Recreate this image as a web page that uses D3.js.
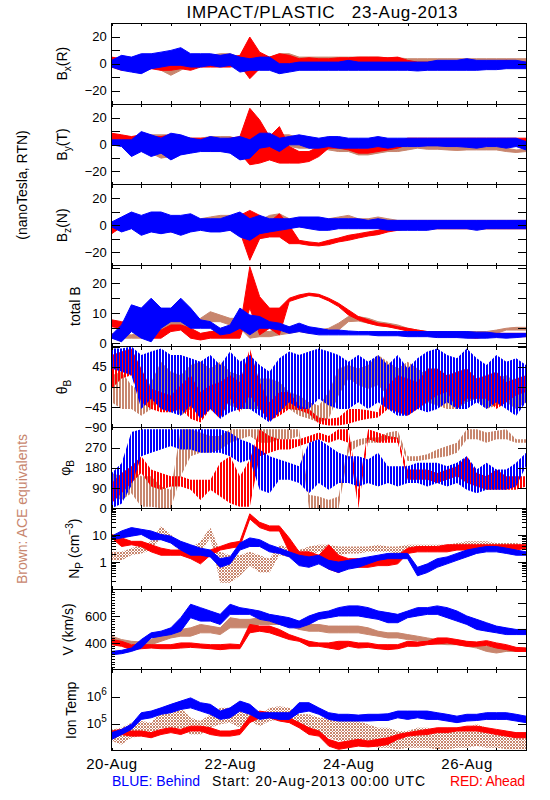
<!DOCTYPE html>
<html><head><meta charset="utf-8">
<script src="https://cdn.jsdelivr.net/npm/d3@7/dist/d3.min.js"></script>
<style>
body{margin:0;background:#fff;}
svg text{font-family:"Liberation Sans",Arial,sans-serif;}
</style></head><body>
<svg id="c" width="550" height="800"></svg>
<script>
// ---------------- DATA (hours since 20-Aug-2013 00:00 UTC; each entry = [low, high] spread of samples) -------------
const hours = [0,4,8,12,16,20,24,28,32,36,40,44,48,52,56,60,64,68,72,76,80,84,88,92,96,100,104,108,112,116,120,124,128,132,136,140,144,148,152,156,160,164,168];
const xTickHours = [0,12,24,36,48,60,72,84,96,108,120,132,144,156,168];
const dateTickHours = [0,48,96,144];
const dateLabels = ["20-Aug","22-Aug","24-Aug","26-Aug"];

const bxBlue = [[-2.5,2.5],[-4.9,6.2],[-6.2,4.9],[-7.4,7.4],[-3.7,7.4],[-2.5,8.6],[-1.2,9.9],[-1.2,11.9],[-2.5,7.4],[-2.5,7.4],
 [-1.2,7.4],[-2.5,6.2],[-1.2,7.4],[-6.2,4.9],[-4.9,3.7],[-4.9,4.9],[-4.9,4.9],[-7.4,0],[-6.2,0],[-4.9,1.2],
 [-4.9,1.2],[-4.9,1.2],[-4.9,1.2],[-4.9,1.2],[-4.9,2.5],[-4.9,1.2],[-4.9,1.2],[-4.9,1.2],[-4.9,1.2],[-4.9,1.2],
 [-4.9,1.2],[-5.4,1.2],[-4.9,1.2],[-4.9,2.5],[-4.9,2.5],[-4.9,2.5],[-4.9,3.7],[-4.9,2.5],[-4.4,2.5],[-4.4,2.5],
 [-3.7,2.5],[-3.7,2.5],[-3.7,1.2]];
const bxRed = [[-2.5,4.9],[-4.9,3.7],[-3.7,2.5],[-4.9,1.2],[-3.7,2.5],[-4.9,1.2],[-4.9,1.2],[-3.7,2.5],[-4.9,1.2],[-2.5,3.7],
 [-2.5,4.9],[-2.5,4.9],[-2.5,4.9],[-1.2,6.2],[-11.1,19.8],[-3.7,8.6],[-2.5,4.9],[-3.7,7.4],[0,6.2],[0,3.7],
 [0.5,4.4],[0,3.7],[0,3.7],[0.5,4.4],[0,4.4],[0.5,4.9],[1.2,4.9],[1.2,4.9],[1.2,4.4],[1.2,4.9],
 [-2.5,2.5],[-3.7,1.2],[-3.7,1.2],[-3.7,1.2],[-3.7,1.2],[-2.5,1.2],[-2.5,2.5],[-2.5,1.2],[-2.5,1.2],[-2.5,1.2],
 [-2.5,2.5],[-2.5,1.2],[-2.5,1.2]];
const bxBrown = [[-1.2,3.7],[-1.2,2.5],[-1.2,2.5],[-2.5,2.5],[-2.5,2.5],[-4.9,1.2],[-8.6,-1.2],[-4.9,0],[0,4.9],[1.2,4.9],
 [1.2,6.2],[1.2,7.4],[1.2,7.4],[0,4.9],[-1.2,6.2],[-1.2,4.9],[0,4.9],[2.5,7.4],[2.5,7.4],[1.2,4.9],
 [1.2,4.9],[1.2,4.9],[1.2,4.9],[1.2,4.9],[1.2,4.9],[0.5,4.9],[1.2,4.9],[0.5,4.9],[1.2,4.4],[0.5,4.4],
 [0,3.7],[0,3.7],[0,3.7],[0,3.7],[0,3.7],[0,3.7],[0,3.7],[0,3.7],[0,3.7],[0,3.7],
 [0,3.7],[0,3.7],[0,3.7]];

const byBlue = [[-0.2,3.5],[-1.5,3.5],[-8.9,3.5],[-5.2,9.6],[-8.9,7.2],[-6.4,4.7],[-11.4,8.4],[-7.7,7.2],[-6.4,4.7],[-5.2,3.5],
 [-5.2,5.9],[-5.2,4.7],[-6.4,4.7],[-11.4,5.9],[-10.1,3.5],[-2.7,8.4],[-1.5,8.4],[-5.2,4.7],[-0.2,5.9],[-0.2,7.2],
 [-2.7,5.9],[-2.7,4.7],[-1.5,5.9],[-2.7,5.9],[-2.7,4.7],[-2.7,4.7],[-2.7,4.7],[-1.5,5.9],[-2.7,4.7],[-1.5,4.7],
 [-1.5,4.7],[-1.5,4.7],[-1,4.7],[-1,4.7],[-1.5,4.7],[-1.5,4.7],[-2,4.7],[-2.7,4.7],[-1.5,4.7],[-1.5,4.7],
 [-2.7,4.7],[-1.5,4.7],[-4,2.2]];
const byRed = [[3.5,8.4],[3.5,7.2],[2.2,5.9],[2.2,7.2],[2.2,5.9],[-0.2,5.9],[-0.2,7.2],[1,5.9],[-0.2,4.7],[-1.5,4.7],
 [-1.5,4.7],[-1.5,3.5],[1,4.7],[-6.4,5.9],[-15,26.9],[-13.8,18.3],[-11.4,5.9],[-13.8,13.3],[-13.8,-1.5],[-13.8,-5.2],
 [-12.6,-5.2],[-8.9,-1.5],[-2.7,1],[-2.7,2.2],[-4,1],[-6.4,-2.7],[-6.4,-2.7],[-5.2,-1.5],[-4,-0.2],[-2.7,2.2],
 [-0.2,4.7],[-0.2,4.7],[-0.2,4.7],[-0.2,4.7],[-0.2,4.7],[-0.2,4.7],[-0.2,4.7],[-0.2,4.7],[-0.2,4.7],[-0.2,4.7],
 [-0.2,4.7],[-0.2,4.7],[-0.2,4.7]];
const byBrown = [[-0.2,2.2],[-0.2,3.5],[-4,3.5],[-5.2,7.2],[-6.4,7.2],[-10.1,7.2],[-8.9,7.2],[-5.2,4.7],[-5.2,4.7],[-2.7,4.7],
 [-5.2,5.9],[-5.2,5.9],[-5.2,5.9],[-6.4,3.5],[-6.4,3.5],[-5.2,1],[-2.7,3.5],[-1.5,7.2],[-1.5,7.2],[-2.7,4.7],
 [-2.7,3.5],[-2.7,3.5],[-4,2.2],[-5.2,-0.2],[-5.2,-1.5],[-7.7,-4],[-7.7,-4],[-6.4,-2.7],[-5.2,-1.5],[-5.2,-1.5],
 [-4,-0.2],[-2.7,-0.2],[-3.5,-1],[-3.5,-1],[-4,-1.5],[-4.4,-1.5],[-4,-1],[-4,-1.5],[-4,-0.2],[-4,-0.2],
 [-5.2,-2.7],[-5.9,-4],[-5.2,-3.5]];

const bzBlue = [[-1.2,2.5],[-4.9,6.2],[-2.5,9.9],[-7.4,7.4],[-4.9,9.9],[-6.2,9.9],[-4.9,7.4],[-7.4,7.4],[-4.9,8.6],[-3.7,4.9],
 [-4.9,4.9],[-4.9,4.9],[-3.7,7.4],[-8.6,9.9],[-11.1,4.9],[-6.2,7.4],[-4.9,4.9],[-3.7,4.9],[-2.5,4.9],[-1.2,6.2],
 [-2.5,6.2],[-3.7,6.2],[-3.7,4.9],[-2.5,4.9],[-2.5,4.9],[-2.5,4.9],[-2.5,3.7],[-2.5,4.9],[-3.7,3.7],[-3.7,3.7],
 [-3.7,3.7],[-3.7,3.7],[-3.7,3.7],[-2.5,3.7],[-2.5,3.7],[-2.5,3.7],[-2.5,3.7],[-3.7,3.7],[-2.5,3.7],[-2.5,3.7],
 [-2.5,3.7],[-2.5,3.7],[-2.5,3.7]];
const bzRed = [[-6.2,1.2],[-1.2,3.7],[-1.2,4.9],[-2.5,3.7],[-2.5,2.5],[-3.7,1.2],[-4.9,0],[-3.7,2.5],[-2.5,2.5],[-2.5,1.2],
 [-3.7,1.2],[-2.5,1.2],[-3.7,2.5],[-4.9,7.4],[-25.9,11.1],[-9.9,7.4],[-8.6,2.5],[-8.6,8.6],[-13.6,0],[-13.6,-11.1],
 [-14.8,-12.3],[-15.3,-13.1],[-14.3,-11.1],[-12.3,-9.4],[-11.1,-7.4],[-9.4,-6.2],[-7.9,-4.9],[-6.9,-3.7],[-4.9,-1.2],[-3.7,1.2],
 [-2.5,1.2],[-2.5,1.2],[-2.5,1.2],[-2.5,1.2],[-2.5,1.2],[-2.5,1.2],[-2.5,1.2],[-2.5,1.2],[-2.5,1.2],[-2.5,1.2],
 [-2.5,1.2],[-2.5,1.2],[-2.5,1.2]];
const bzBrown = [[-1.2,1.2],[0,2.5],[0,3.7],[-1.2,4.9],[0,6.2],[1.2,7.4],[-1.2,6.2],[-1.2,4.9],[-2.5,4.9],[-2.5,4.9],
 [-2.5,6.2],[0,7.4],[-2.5,7.4],[-2.5,4.9],[-2.5,4.9],[-1.2,3.7],[0,7.4],[0,8.6],[-1.2,4.9],[-1.2,3.7],
 [-1.2,3.7],[-1.2,3.7],[0,4.9],[1.2,6.2],[2.5,7.4],[0,4.9],[1.2,4.9],[1.2,6.2],[0,4.9],[-2.5,3.7],
 [-2.5,3.7],[-2.5,3.7],[-2.5,3.7],[-2.5,3.7],[-2.5,3.7],[-2.5,3.7],[-2.5,3.7],[-2.5,3.7],[-2.5,3.7],[-2.5,3.7],
 [-2.5,3.7],[-2.5,3.7],[-2.5,3.7]];

const btBlue = [[1.6,2.7],[0.4,6],[3.8,12.7],[1.6,11.6],[0.4,14.9],[4.9,11.6],[7.1,11.6],[7.1,14.9],[4.9,11.6],[4.9,7.7],
 [4.9,7.1],[2.7,4.9],[3.2,6],[4.9,11.6],[2.7,9.3],[4.9,8.8],[4.9,7.1],[4.3,6.6],[3.2,5.4],[3.8,6.6],
 [3.2,5.4],[2.7,4.9],[2.7,4.3],[2.7,4.3],[2.7,4],[2.7,3.8],[2.7,3.8],[2.4,3.8],[2.4,3.8],[2.4,3.8],
 [2.1,3.8],[2.1,3.8],[2.1,3.8],[1.8,3.8],[1.8,3.8],[1.8,3.8],[1.6,3.8],[1.6,3.6],[1.6,3.6],[1.8,3.2],
 [1.6,3.2],[1.8,3.2],[2.1,3.2]];
const btRed = [[5.4,7.7],[4.9,7.1],[4.3,6.6],[3.2,6],[1.6,4.9],[1.6,4.3],[3.8,6],[4.3,6],[1.6,4.9],[1,3.2],
 [1.6,3.8],[1.6,3.8],[1.6,3.8],[1.6,4.9],[11.6,25.4],[2.7,15.4],[4.9,11.6],[2.7,11.6],[13.8,14.9],[14.9,16],
 [15.8,16.6],[15.4,16.2],[14,14.9],[12.1,13.2],[9.3,11],[7.7,8.8],[6.6,7.7],[5.8,6.6],[5.4,6.2],[4.7,5.4],
 [4,4.9],[3.2,4.3],[2.7,3.8],[2.4,3.8],[2.1,3.6],[2.1,3.2],[1.8,3.2],[1.6,3.2],[2.1,3.2],[2.1,3.2],
 [1.8,3.2],[2.1,3.2],[2.1,3.2]];
const btBrown = [[1.6,3.2],[1.6,2.7],[1.6,2.7],[1.6,3.2],[2.1,3.2],[2.7,6],[4.3,7.1],[4.9,7.1],[4.9,7.1],[6,8.2],
 [7.1,10.4],[7.1,9.3],[6,8.2],[4.9,8.2],[1.6,4.9],[2.1,3.8],[2.1,3.8],[2.7,4.9],[3.2,5.4],[3.8,5.4],
 [3.2,4.9],[3.2,4.3],[3.8,4.9],[4.3,6.6],[7.1,8.8],[7.3,8.8],[6.6,8.2],[5.8,7.1],[5.4,6.6],[4.9,6],
 [4,4.9],[3.2,4.3],[2.7,3.8],[2.7,3.8],[2.7,3.8],[2.7,3.8],[2.4,3.8],[2.4,3.8],[2.4,3.8],[3.2,4.3],
 [4.3,4.9],[4.3,5.2],[4.3,5.2]];

const thBlue = [[41,86],[34,86],[26,90],[-49,71],[-26,79],[-49,86],[-56,71],[-64,71],[-41,64],[-71,56],
 [-49,71],[-71,49],[-56,79],[-49,56],[-49,71],[-64,49],[-79,34],[-56,64],[-34,79],[-49,71],
 [-49,79],[-26,86],[-41,79],[-49,71],[-49,56],[-34,71],[-49,56],[-34,71],[-49,49],[-64,71],
 [-64,41],[-49,64],[-56,79],[-49,86],[-34,71],[-49,64],[-49,86],[-34,64],[-49,49],[-34,71],
 [-49,56],[-64,64],[-34,49]];
const thRed = [[-4,71],[19,79],[26,86],[-34,41],[-49,-4],[-56,-11],[-56,-19],[-49,4],[-71,26],[-79,-11],
 [-49,4],[-71,11],[-26,26],[-56,11],[-19,86],[-49,11],[-75,-34],[-64,-11],[-49,-11],[-52,-41],
 [-60,-49],[-82,-68],[-86,-71],[-86,-68],[-82,-49],[-75,-49],[-71,-52],[-68,-56],[-49,4],[-56,26],
 [-64,19],[-49,11],[-34,41],[-19,41],[-11,26],[-49,34],[-26,41],[-26,19],[-26,26],[-49,34],
 [-34,11],[-19,19],[-11,26]];
const thBrown = [[-34,26],[-49,34],[-49,4],[-64,-11],[-49,11],[-11,56],[-34,34],[-64,26],[-49,49],[-11,56],
 [-34,41],[-19,56],[-41,34],[-49,26],[-49,34],[-49,19],[-41,19],[-49,11],[-49,-11],[-64,-19],
 [-71,-34],[-79,-41],[-71,-11],[-19,41],[19,49],[4,41],[-4,49],[4,71],[-19,56],[-34,41],
 [-34,56],[-19,41],[-34,26],[-41,19],[-49,11],[-49,4],[-34,26],[-26,19],[-49,11],[-41,19],
 [-34,26],[-49,11],[-34,11]];

const phBlue = [[0,157],[20,200],[100,340],[232,352],[247,352],[262,352],[277,352],[262,352],[262,352],[247,352],
 [247,352],[247,352],[232,337],[202,307],[217,292],[82,262],[67,232],[127,217],[127,202],[112,187],
 [67,292],[112,307],[82,277],[112,247],[112,232],[97,232],[112,217],[97,247],[112,187],[97,187],
 [112,187],[112,202],[97,202],[112,202],[97,187],[112,202],[82,232],[67,172],[82,202],[82,172],
 [82,172],[97,202],[187,247]];
const phRed = [[22,112],[67,157],[112,187],[157,232],[97,172],[82,157],[97,142],[97,142],[82,127],[37,127],
 [82,127],[52,202],[22,232],[7,142],[7,217],[232,352],[247,322],[262,307],[262,307],[277,307],
 [292,322],[307,337],[292,322],[307,352],[292,352],[0,82],[307,352],[292,337],[292,322],[292,315],
 [127,172],[127,172],[127,172],[112,157],[127,172],[142,187],[112,232],[97,157],[82,142],[82,172],
 [82,142],[82,142],[97,142]];
const phBrown = [[52,157],[37,142],[67,172],[7,142],[7,142],[0,97],[0,82],[142,352],[232,352],[247,337],
 [247,322],[262,322],[292,352],[307,352],[322,352],[292,352],[292,352],[307,352],[307,352],[322,352],
 [0,60],[0,52],[0,37],[0,52],[247,292],[277,307],[292,315],[292,315],[307,337],[307,345],
 [210,232],[210,232],[217,240],[225,262],[232,277],[247,292],[307,352],[307,352],[292,337],[307,345],
 [307,352],[292,307],[292,307]];

const npBlue = [[6.8,9.2],[7.9,14.3],[9.2,19.1],[10.6,16.5],[6.8,14.3],[6.8,10.6],[5.1,9.2],[2.8,5.9],[1.8,4.4],[1.8,3.3],
 [1.56,2.8],[0.64,1.34],[0.86,1.56],[2.8,5.1],[3.8,7.9],[3.8,6.8],[2.4,4.4],[2.1,3.3],[1.56,2.4],[0.74,1.8],
 [0.64,1.56],[0.86,1.8],[0.55,1.16],[0.41,1],[0.55,1.16],[0.64,1.34],[0.86,1.56],[1.16,1.8],[1.34,2.1],[1.34,2.1],
 [1.34,2.1],[0.31,0.64],[0.41,0.86],[0.64,1.34],[0.86,1.56],[1.16,2.1],[1.56,2.8],[2.1,3.3],[2.4,3.8],[2.4,3.8],
 [2.1,3.3],[1.8,2.8],[1.8,2.4]];
const npRed = [[7.9,10.6],[3.8,7.9],[4.4,5.9],[3.8,5.9],[2.4,4.4],[1.8,3.3],[1.8,2.8],[1.8,2.8],[1.34,2.4],[0.86,1.8],
 [1.8,2.8],[2.8,3.8],[3.3,5.1],[3.8,5.9],[40,62],[19.1,30],[14.3,22],[14.3,22],[2.4,7.9],[1,2.4],
 [1.16,2.4],[1,1.8],[0.55,4.4],[0.41,1.8],[0.64,1.34],[0.64,1.34],[0.64,1.34],[0.74,1.34],[0.74,1.56],[0.86,1.8],
 [2.1,3.3],[2.4,3.8],[2.4,3.8],[2.4,3.8],[2.4,4.4],[2.8,4.4],[2.8,4.4],[2.8,4.4],[2.8,4.4],[2.8,4.4],
 [2.8,4.4],[2.8,4.4],[3.3,4.4]];
const npBrown = [[1.16,2.4],[1.16,2.4],[1.8,3.3],[2.1,4.4],[2.8,5.9],[7.9,22],[5.1,10.6],[2.4,4.4],[1.8,3.3],[2.4,5.9],
 [7.9,19.1],[0.17,2.4],[0.17,1.8],[0.31,1.8],[0.74,2.4],[0.41,1.8],[0.41,1.34],[1.8,4.4],[1.56,3.3],[1.56,2.8],
 [1.8,3.8],[2.4,4.4],[1.8,4.4],[1.8,3.8],[2.1,3.8],[2.1,3.8],[2.4,3.8],[2.4,4.4],[2.4,3.8],[2.1,3.8],
 [2.8,4.4],[2.8,4.4],[2.4,4.4],[2.8,4.4],[2.8,4.4],[3.3,5.1],[3.3,5.9],[3.8,5.9],[3.3,5.9],[3.3,5.1],
 [3.3,5.1],[3.3,5.1],[2.8,4.4]];

const vBlue = [[312,337],[320,345],[337,362],[362,425],[437,475],[450,487],[462,512],[487,587],[587,687],[562,662],
 [562,637],[537,612],[612,687],[612,662],[612,650],[575,637],[562,612],[537,600],[512,587],[512,562],
 [537,600],[575,625],[587,637],[600,662],[600,675],[600,675],[587,662],[575,637],[550,625],[550,612],
 [587,637],[600,662],[612,662],[612,675],[587,662],[562,637],[537,600],[500,575],[487,550],[475,525],
 [462,512],[462,500],[462,500]];
const vRed = [[387,425],[375,412],[350,387],[357,387],[362,387],[357,387],[357,387],[362,400],[367,400],[362,392],
 [357,387],[350,387],[357,392],[357,387],[475,537],[487,525],[475,525],[450,500],[425,462],[412,437],
 [375,412],[375,400],[362,400],[350,412],[375,412],[362,400],[367,400],[357,387],[350,387],[357,387],
 [375,412],[375,407],[387,412],[392,437],[400,437],[387,425],[375,412],[375,407],[382,417],[362,400],
 [350,387],[337,367],[337,362]];
const vBrown = [[412,450],[400,425],[392,412],[387,407],[387,425],[412,462],[437,487],[450,500],[450,512],[475,537],
 [475,525],[462,512],[512,587],[512,575],[512,575],[537,587],[537,587],[537,587],[525,575],[500,550],
 [487,537],[487,537],[475,525],[475,525],[475,525],[475,525],[462,512],[450,487],[437,475],[437,475],
 [425,462],[417,450],[407,437],[392,425],[387,412],[387,412],[375,400],[362,387],[337,375],[325,362],
 [337,362],[337,362],[337,362]];

const tBlue = [[2.63e4,4.68e4],[3.98e4,6.17e4],[6.17e4,9.55e4],[1.45e5,2.57e5],[1.66e5,2.95e5],[2.24e5,3.89e5],[2.57e5,5.25e5],[3.39e5,6.92e5],[3.89e5,9.12e5],[2.95e5,6.03e5],
 [2.24e5,5.25e5],[1.45e5,2.95e5],[1.66e5,3.89e5],[2.95e5,6.92e5],[2.24e5,5.25e5],[1.45e5,2.57e5],[1.66e5,2.57e5],[1.45e5,2.57e5],[1.45e5,2.57e5],[2.57e5,6.03e5],
 [2.95e5,6.03e5],[2.24e5,3.89e5],[1.45e5,2.57e5],[1.26e5,2.24e5],[1.26e5,2.24e5],[1.26e5,2.09e5],[1.26e5,2.24e5],[1.32e5,2.24e5],[1.32e5,2.34e5],[1.66e5,2.95e5],
 [1.45e5,2.95e5],[1.66e5,2.95e5],[1.45e5,2.95e5],[1.45e5,2.57e5],[1.26e5,2.24e5],[1.1e5,1.91e5],[1.26e5,2.24e5],[1.32e5,2.24e5],[1.45e5,2.57e5],[1.45e5,2.57e5],
 [1.45e5,2.57e5],[1.26e5,2.24e5],[1.1e5,1.91e5]];
const tRed = [[3.47e4,5.37e4],[3.98e4,6.17e4],[3.47e4,5.37e4],[3.47e4,5.37e4],[3.02e4,4.68e4],[3.98e4,6.17e4],[4.68e4,7.08e4],[3.98e4,6.17e4],[5.37e4,8.13e4],[5.37e4,8.13e4],
 [3.98e4,7.08e4],[3.47e4,5.37e4],[3.47e4,5.37e4],[3.98e4,6.17e4],[1.1e5,1.91e5],[1.66e5,2.95e5],[1.66e5,2.57e5],[1.26e5,1.91e5],[1.1e5,1.66e5],[7.08e4,1.1e5],
 [3.98e4,7.08e4],[3.47e4,5.37e4],[1.48e4,2.63e4],[1.12e4,2e4],[1.29e4,2.29e4],[1.48e4,2.63e4],[1.38e4,2.29e4],[1.48e4,2.63e4],[1.7e4,3.02e4],[2.63e4,3.98e4],
 [3.47e4,4.68e4],[3.8e4,5.37e4],[3.98e4,6.17e4],[4.68e4,7.08e4],[4.68e4,7.08e4],[5.37e4,7.08e4],[5.37e4,8.13e4],[5.37e4,8.13e4],[4.68e4,7.08e4],[3.98e4,6.17e4],
 [3.47e4,5.37e4],[3.02e4,4.68e4],[3.02e4,4.68e4]];
const tBrown = [[2.29e4,6.17e4],[1.7e4,7.08e4],[3.02e4,1.1e5],[3.47e4,1.26e5],[3.02e4,1.1e5],[7.08e4,2.95e5],[5.37e4,2.95e5],[7.08e4,3.89e5],[3.98e4,1.66e5],[3.98e4,1.26e5],
 [7.08e4,2.24e5],[9.55e4,3.89e5],[1.1e5,3.89e5],[7.08e4,2.95e5],[1.26e5,2.95e5],[8.13e4,1.91e5],[1.26e5,3.89e5],[1.45e5,4.47e5],[1.26e5,3.89e5],[7.08e4,2.24e5],
 [5.37e4,2.24e5],[3.98e4,1.66e5],[3.02e4,1.66e5],[2.29e4,1.26e5],[2.29e4,1.26e5],[1.7e4,1.26e5],[1.7e4,9.55e4],[1.29e4,7.08e4],[1.29e4,7.08e4],[1.12e4,5.37e4],
 [1.29e4,5.37e4],[1.29e4,7.08e4],[1.29e4,7.08e4],[1.12e4,5.37e4],[1.12e4,5.37e4],[1.29e4,7.08e4],[1.29e4,7.08e4],[1.48e4,9.55e4],[1.29e4,7.08e4],[1.29e4,5.37e4],
 [1.12e4,5.37e4],[1.12e4,4.68e4],[1.12e4,3.98e4]];

// ---------------- LAYOUT / STYLE ----------------
const BLUE = "#0000ff", RED = "#ff0000", BROWN = "#c8866e";
const L = 111.7, R = 526, TOP = 23.3, PH = 80.82;
const svg = d3.select("#c");
const defs = svg.append("defs");
const x = d3.scaleLinear().domain([0, 168]).range([L, R]);

function stripePattern(id, col, offset) {
  const p = defs.append("pattern").attr("id", id).attr("patternUnits", "userSpaceOnUse")
    .attr("width", 3).attr("height", 6).attr("x", offset);
  p.append("rect").attr("x", 0).attr("y", 0).attr("width", 2).attr("height", 6).attr("fill", col);
}
function stipplePattern(id, col) {
  const p = defs.append("pattern").attr("id", id).attr("patternUnits", "userSpaceOnUse")
    .attr("width", 3).attr("height", 3);
  p.append("rect").attr("x", 0).attr("y", 0).attr("width", 2).attr("height", 2).attr("fill", col);
  p.append("rect").attr("x", 2).attr("y", 2).attr("width", 1).attr("height", 1).attr("fill", col);
}
stripePattern("sBlue", BLUE, 0);
stripePattern("sRed", RED, 1);
stripePattern("sBrown", BROWN, 2);
stipplePattern("dBrown", BROWN);

const panels = [
  {label:[["B"],["x","sub"],["(R)"]], lx:67, series:[bxBrown,bxRed,bxBlue], domain:[-30,30], ticks:[-20,-10,0,10,20], labeled:[-20,0,20]},
  {label:[["B"],["y","sub"],["(T)"]], lx:67, series:[byBrown,byRed,byBlue], domain:[-30,30], ticks:[-20,-10,0,10,20], labeled:[-20,0,20]},
  {label:[["B"],["z","sub"],["(N)"]], lx:67, series:[bzBrown,bzRed,bzBlue], domain:[-30,30], ticks:[-20,-10,0,10,20], labeled:[-20,0,20]},
  {label:[["total B"]], lx:80, series:[btBrown,btRed,btBlue], domain:[-1.2,25.7], ticks:[0,5,10,15,20,25], labeled:[0,10,20]},
  {label:[["θ"],["B","sub"]], lx:67, series:[thBrown,thRed,thBlue], domain:[-90,90], ticks:[-90,-45,0,45,90], labeled:[-90,-45,0,45],
     fills:["url(#sBrown)","url(#sRed)","url(#sBlue)"]},
  {label:[["φ"],["B","sub"]], lx:70, series:[phBrown,phRed,phBlue], domain:[0,360], ticks:[0,90,180,270,360], labeled:[0,90,180,270],
     fills:["url(#sBrown)","url(#sRed)","url(#sBlue)"]},
  {label:[["N"],["P","sub"],[" (cm"],["−3","sup"],[")"]], lx:79, series:[npBrown,npRed,npBlue], domain:[0.1,100], log:true,
     ticks:[0.1,1,10,100], labeled:[1,10], minor:[0.2,0.3,0.4,0.5,0.6,0.7,0.8,0.9,2,3,4,5,6,7,8,9,20,30,40,50,60,70,80,90],
     fills:["url(#dBrown)",null,null]},
  {label:[["V (km/s)"]], lx:73, series:[vBrown,vRed,vBlue], domain:[200,800], ticks:[400,600], labeled:[400,600],
     rticks:[300,400,500,600,700], minor:d3.range(220,800,20)},
  {label:[["Ion Temp"]], lx:76, series:[tBrown,tRed,tBlue], domain:[1e4,1e7], log:true, ticks:[1e5,1e6], labeled:[], sup:[[1e5,"5"],[1e6,"6"]],
     fills:["url(#dBrown)",null,null]}
];

function addRotLabel(parts, xb, cy, size, color) {
  const t = svg.append("text")
    .attr("transform", `translate(${xb},${cy}) rotate(-90)`)
    .attr("text-anchor", "middle").attr("font-size", size).attr("fill", color || "#000");
  let shift = 0;
  parts.forEach(([s, kind]) => {
    const target = kind === "sub" ? 4 : kind === "sup" ? -6 : 0;
    const ts = t.append("tspan").text(s).attr("dy", target - shift);
    shift = target;
    if (kind) ts.attr("font-size", size * 0.72);
  });
}

function styleAxis(g) {
  g.select(".domain").remove();
  g.attr("font-family", null).attr("font-size", 13);
  g.selectAll("line").attr("stroke", "#000").attr("shape-rendering", "crispEdges");
  g.selectAll("text").attr("fill", "#000");
}

panels.forEach((p, k) => {
  const y0 = TOP + k * PH, y1 = y0 + PH;
  const y = (p.log ? d3.scaleLog() : d3.scaleLinear()).domain(p.domain).range([y1, y0]);
  const clipId = "clip" + k;
  defs.append("clipPath").attr("id", clipId).append("rect")
    .attr("x", L).attr("y", y0).attr("width", R - L).attr("height", PH);

  const area = d3.area()
    .x((d, i) => x(hours[i]))
    .y0(d => y(d[0])).y1(d => y(d[1]));

  const dg = svg.append("g").attr("clip-path", `url(#${clipId})`);
  [BROWN, RED, BLUE].forEach((col, j) => {
    const f = p.fills && p.fills[j];
    dg.append("path").datum(p.series[j]).attr("d", area)
      .attr("fill", f || col).attr("stroke", f ? "none" : col)
      .attr("stroke-width", 1).attr("stroke-linejoin", "round");
  });

  const fmt = v => p.labeled.includes(v) ? d3.format("")(v).replace("-", "−") : "";
  const la = svg.append("g").attr("transform", `translate(${L},0)`)
    .call(d3.axisLeft(y).tickValues(p.ticks).tickSize(-8).tickPadding(5).tickFormat(fmt));
  styleAxis(la);
  const ra = svg.append("g").attr("transform", `translate(${R},0)`)
    .call(d3.axisRight(y).tickValues(p.rticks || p.ticks).tickSize(-8).tickFormat(""));
  styleAxis(ra);
  if (p.minor) {
    const ml = svg.append("g").attr("transform", `translate(${L},0)`)
      .call(d3.axisLeft(y).tickValues(p.minor).tickSize(p.log ? -4 : -3).tickFormat(""));
    styleAxis(ml);
    if (p.log) {
      const mr = svg.append("g").attr("transform", `translate(${R},0)`)
        .call(d3.axisRight(y).tickValues(p.minor).tickSize(-4).tickFormat(""));
      styleAxis(mr);
    }
  }
  if (p.sup) {
    p.sup.forEach(([v, e]) => {
      const t = svg.append("text").attr("x", L - 5).attr("y", y(v)).attr("dy", "0.32em")
        .attr("text-anchor", "end").attr("font-size", 13);
      t.append("tspan").text("10");
      t.append("tspan").text(e).attr("dy", -6).attr("font-size", 10);
    });
  }
  const ta = svg.append("g").attr("transform", `translate(0,${y0})`)
    .call(d3.axisTop(x).tickValues(xTickHours).tickSize(-3).tickFormat(""));
  styleAxis(ta);
  const ba = svg.append("g").attr("transform", `translate(0,${y1})`)
    .call(d3.axisBottom(x).tickValues(xTickHours).tickSize(-3).tickFormat(""));
  styleAxis(ba);

  svg.append("rect").attr("x", L).attr("y", y0).attr("width", R - L).attr("height", PH)
    .attr("fill", "none").attr("stroke", "#000").attr("stroke-width", 1).attr("shape-rendering", "crispEdges");

  addRotLabel(p.label, p.lx, (y0 + y1) / 2, 14);
});

svg.append("text").attr("x", 322).attr("y", 18).attr("text-anchor", "middle")
  .attr("font-size", 17).style("white-space", "pre")
  .attr("textLength", 271).attr("lengthAdjust", "spacing")
  .text("IMPACT/PLASTIC   23-Aug-2013");

addRotLabel([["(nanoTesla, RTN)"]], 27, 185, 14);
addRotLabel([["Brown: ACE equivalents"]], 27, 509, 14, BROWN);

const yB = TOP + 9 * PH;
dateTickHours.forEach((h, i) => {
  svg.append("text").attr("x", x(h)).attr("y", yB + 18.5).attr("text-anchor", "middle")
    .attr("font-size", 15).attr("textLength", 51).attr("lengthAdjust", "spacing").text(dateLabels[i]);
});
svg.append("text").attr("x", 112).attr("y", 786).attr("font-size", 14).attr("fill", BLUE)
  .attr("textLength", 88).attr("lengthAdjust", "spacing").text("BLUE: Behind");
svg.append("text").attr("x", 212).attr("y", 786).attr("font-size", 14)
  .attr("textLength", 213).attr("lengthAdjust", "spacing").text("Start: 20-Aug-2013 00:00 UTC");
svg.append("text").attr("x", 450).attr("y", 786).attr("font-size", 14).attr("fill", RED)
  .attr("textLength", 75).attr("lengthAdjust", "spacing").text("RED: Ahead");
</script>
</body></html>
